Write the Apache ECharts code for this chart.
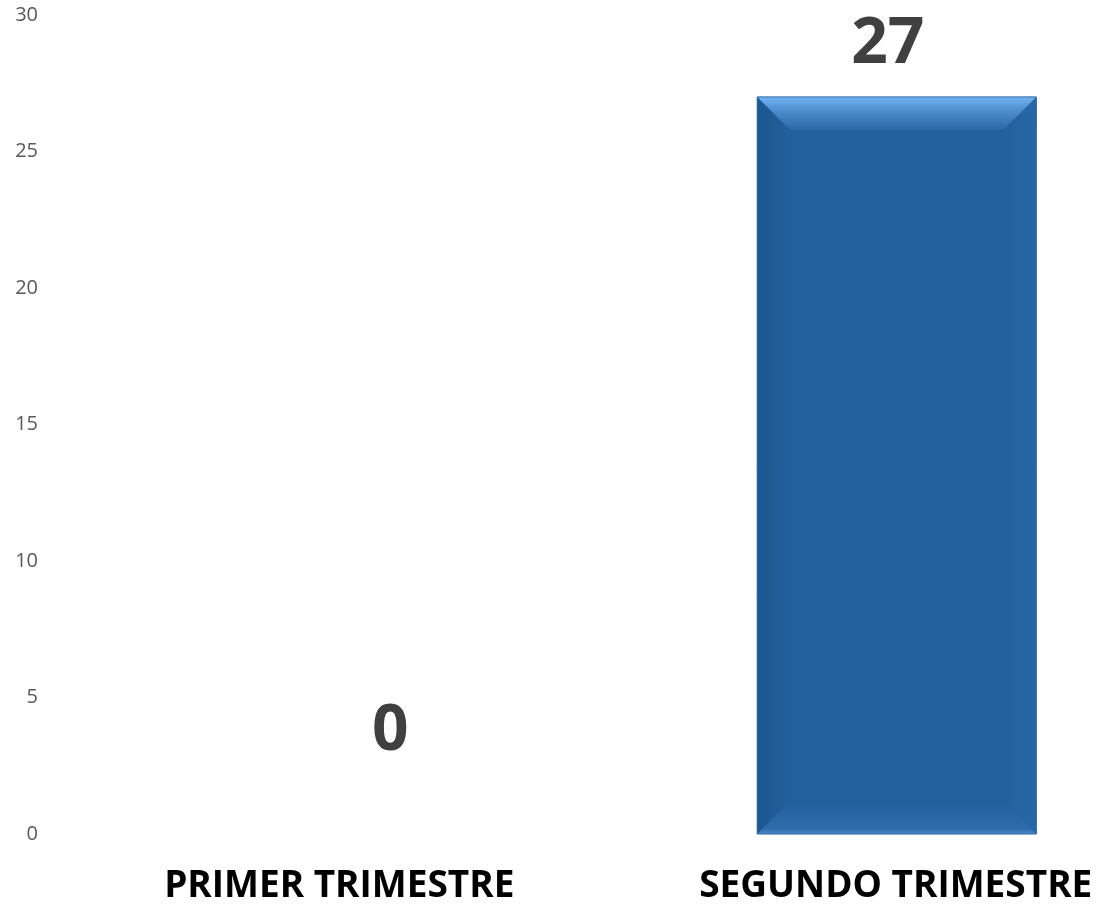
<!DOCTYPE html>
<html><head><meta charset="utf-8">
<script src="https://cdn.jsdelivr.net/npm/echarts@6/dist/echarts.min.js"></script>
<style>html,body{margin:0;padding:0;background:#fff}#c{width:1096px;height:909px}</style>
</head><body><div id="c"></div>
<script>
const categories = ['PRIMER TRIMESTRE', 'SEGUNDO TRIMESTRE'];
const values = [0, 27];
const yTicks = [0, 5, 10, 15, 20, 25, 30];

const chart = echarts.init(document.getElementById('c'));
const BW = 0.551;
const BEV = 33;
function bevel(params, api) {
  const v = api.value(1);
  if (!v) return null;
  const idx = api.value(0);
  const top = api.coord([idx, v]);
  const bot = api.coord([idx, 0]);
  const w = api.size([1, 0])[0] * BW;
  const x0 = top[0] - w / 2, x1 = top[0] + w / 2, y0 = top[1], y1 = bot[1];
  const b = Math.min(BEV, (y1 - y0) / 2);
  const lin = (x1_, y1_, x2_, y2_, stops) => new echarts.graphic.LinearGradient(x1_, y1_, x2_, y2_, stops);
  return {
    type: 'group',
    children: [
      { type: 'rect', shape: { x: x0, y: y0, width: w, height: y1 - y0 }, style: { fill: '#235f9d' } },
      { type: 'polygon', shape: { points: [[x0, y0], [x0 + b, y0 + b], [x0 + b, y1 - b], [x0, y1]] },
        style: { fill: lin(0, 0, 1, 0, [{ offset: 0, color: '#1d5790' }, { offset: 1, color: '#235f9d' }]) } },
      { type: 'polygon', shape: { points: [[x1, y0], [x1 - b, y0 + b], [x1 - b, y1 - b], [x1, y1]] },
        style: { fill: lin(1, 0, 0, 0, [{ offset: 0, color: '#2868a8' }, { offset: 1, color: '#235f9d' }]) } },
      { type: 'polygon', shape: { points: [[x0, y0], [x1, y0], [x1 - b, y0 + b], [x0 + b, y0 + b]] },
        style: { fill: lin(0, 0, 0, 1, [{ offset: 0, color: '#72b2f2' }, { offset: 0.4, color: '#4f8fd0' }, { offset: 1, color: '#2a67a6' }]) } },
      { type: 'polygon', shape: { points: [[x0, y1], [x1, y1], [x1 - b, y1 - b], [x0 + b, y1 - b]] },
        style: { fill: lin(0, 1, 0, 0, [{ offset: 0, color: '#4a88c6' }, { offset: 0.15, color: '#2f6dac' }, { offset: 1, color: '#235f9d' }]) } },
      { type: 'rect', shape: { x: x0, y: y0, width: w, height: y1 - y0 }, style: { fill: 'none', stroke: '#2a64a0', lineWidth: 1 } }
    ]
  };
}
chart.setOption({
  animation: false,
  grid: { left: 137, width: 1013, top: 15, bottom: 75, containLabel: false, outerBoundsMode: 'none' },
  xAxis: {
    type: 'category',
    data: categories.map((c, i) => i === 0 ? { value: c, textStyle: { padding: [0, 102, 0, 0] } } : { value: c, textStyle: { padding: [0, 2, 0, 0] } }),
    axisLine: { show: false }, axisTick: { show: false }, splitLine: { show: false },
    axisLabel: { color: '#000', fontSize: 37, fontWeight: 'bold', fontFamily: 'Open Sans', margin: 34, interval: 0 }
  },
  yAxis: {
    type: 'value', min: 0, max: 30, interval: 5,
    axisLine: { show: false }, axisTick: { show: false }, splitLine: { show: false },
    axisLabel: { color: '#595959', fontSize: 20, fontFamily: 'Open Sans', margin: 99,
      formatter: v => yTicks.includes(v) ? String(v) : '' }
  },
  series: [
    {
      type: 'bar', data: values, barWidth: (BW * 100) + '%',
      itemStyle: { color: 'rgba(0,0,0,0)' },
      label: { show: true, position: 'top', color: '#404040', fontSize: 64, fontWeight: 'bold', fontFamily: 'Open Sans',
        formatter: p => String(p.value) },
      labelLayout: (p) => p.dataIndex === 0 ? { dy: -65 } : { dx: -9, dy: -15 }
    },
    {
      type: 'custom', renderItem: bevel, data: values.map((v, i) => [i, v]), z: 1
    }
  ]
});
</script></body></html>
